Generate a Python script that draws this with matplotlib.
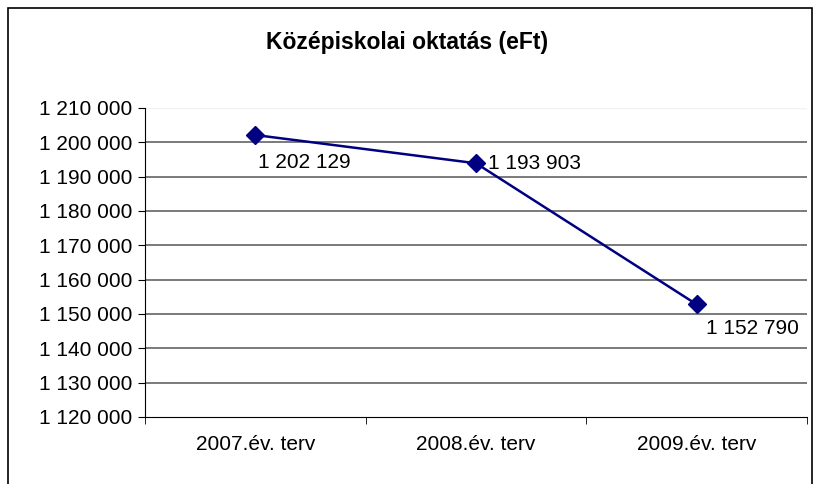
import matplotlib
matplotlib.use("Agg")
from matplotlib import pyplot as plt
from matplotlib.patches import Rectangle
import numpy as np

plt.rcParams['font.family'] = ['Liberation Sans', 'DejaVu Sans']

# adatok
categories = ["2007.év. terv", "2008.év. terv", "2009.év. terv"]
values = [1202129, 1193903, 1152790]
label_texts = ["1 202 129", "1 193 903", "1 152 790"]
y_ticks = list(range(1120000, 1210001, 10000))


def fmt_space(v):
    return "{:,}".format(int(v)).replace(",", " ")


fig = plt.figure(figsize=(8.15, 4.84), dpi=100)
W, H = 815, 484

# külső keret (alja kilóg a képből)
fig.patches.append(Rectangle((8 / W, -10 / H), 804 / W, 486 / H, transform=fig.transFigure,
                             fill=False, edgecolor="black", linewidth=1.2))

ax = fig.add_axes([145 / W, 1 - 417 / H, 662 / W, 309 / H])

x = np.arange(len(categories))
ax.plot(x, values, color="#000080", linewidth=1.8, marker="D", markersize=9,
        markerfacecolor="#000080", markeredgecolor="#000080", zorder=3)

ax.set_xlim(-0.5, len(categories) - 0.5)
ax.set_ylim(1120000, 1210000)
ax.set_yticks(y_ticks)
ax.set_yticklabels([fmt_space(v) for v in y_ticks], fontsize=15)
for v in y_ticks[1:-1]:
    ax.axhline(v, color="#7a7a7a", linewidth=1.4, zorder=1)
ax.axhline(y_ticks[-1], color="#f2f2f2", linewidth=1.0, zorder=1)

ax.set_xticks(x)
ax.set_xticklabels(categories, fontsize=15)
ax.tick_params(axis="x", length=0, pad=13)
ax.set_xticks(np.arange(-0.5, len(categories), 1.0), minor=True)
ax.tick_params(axis="x", which="minor", length=5, direction="out", color="black")
ax.tick_params(axis="y", length=5, direction="out", color="black", pad=4)

for s in ["top", "right"]:
    ax.spines[s].set_visible(False)
ax.spines["left"].set_color("black")
ax.spines["bottom"].set_color("black")

# adatcímkék
offsets = [(2, -20), (9, 0), (7, -17)]
for xi, v, t, off in zip(x, values, label_texts, offsets):
    ax.annotate(t, (xi, v), xytext=off, textcoords="offset points",
                ha="left", va="center", fontsize=15)

fig.text(0.5, 1 - 42 / H, "Középiskolai oktatás (eFt)", ha="center", va="center",
         fontsize=16.5, fontweight="bold")

fig.savefig("out.png", dpi=100)
